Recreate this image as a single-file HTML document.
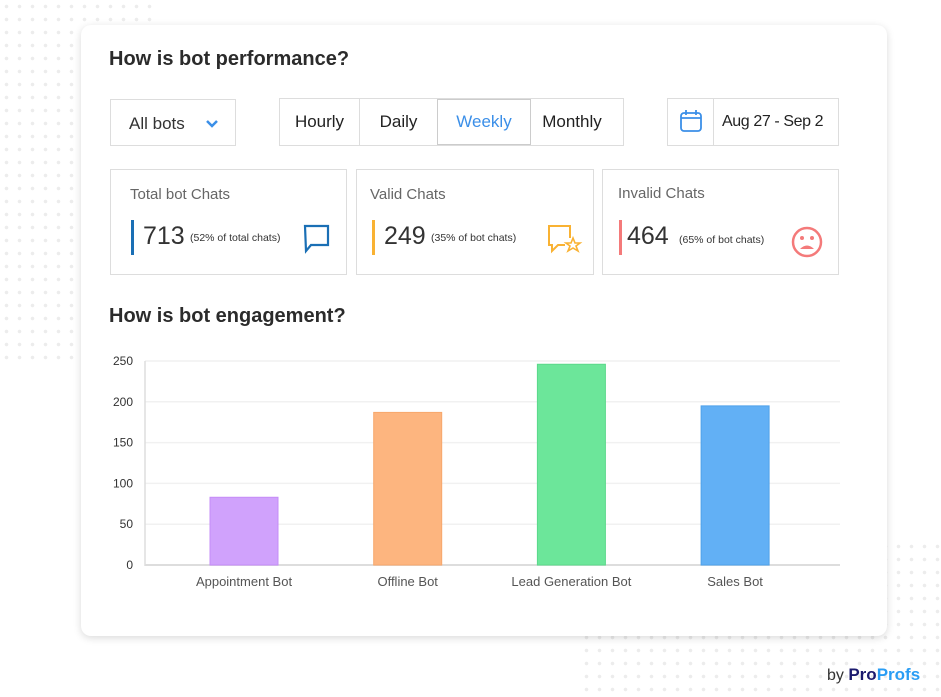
<!DOCTYPE html>
<html><head><meta charset="utf-8"><style>
*{box-sizing:border-box;margin:0;padding:0}
body{width:941px;height:697px;position:relative;background:#fff;font-family:"Liberation Sans",sans-serif;overflow:hidden;color:#333}
.dots{position:absolute;background-image:radial-gradient(circle,#ececec 1.6px,transparent 2px);background-size:13px 13px}
.card{position:absolute;left:81px;top:25px;width:806px;height:611px;background:#fff;border-radius:10px;box-shadow:0 2px 8px rgba(0,0,0,.15)}
.abs{position:absolute;white-space:nowrap}
h2{position:absolute;font-size:20px;font-weight:bold;color:#2b2b2b;white-space:nowrap}
.box{position:absolute;border:1px solid #ddd;background:#fff}
.seg{position:absolute;top:0;height:100%;font-size:17px;display:flex;align-items:center;justify-content:center;color:#222}
.stat .t{position:absolute;left:19px;top:16px;font-size:15px;color:#666}
.stat .bar{position:absolute;left:20px;top:50px;width:3px;height:35px}
.stat .n{position:absolute;top:52px;font-size:25px;color:#333}
.stat .p{position:absolute;top:62px;font-size:10.5px;color:#333;white-space:nowrap}
</style></head><body>
<div class="dots" style="left:0;top:0;width:156px;height:360px"></div>
<div class="dots" style="left:580px;top:540px;width:361px;height:157px"></div>
<div class="card">
<h2 style="left:28px;top:23px">How is bot performance?</h2>
<div class="box" style="left:29px;top:74px;width:126px;height:47px">
<span class="abs" style="left:18px;top:14px;font-size:17px">All bots</span>
<svg class="abs" style="left:95px;top:19px" width="12" height="9"><path d="M1 2 L6 7 L11 2" stroke="#3b8fe8" stroke-width="2.5" fill="none"/></svg>
</div>
<div class="box" style="left:198px;top:73px;width:345px;height:48px">
<div class="seg" style="left:0;width:80px;border-right:1px solid #ddd">Hourly</div>
<div class="seg" style="left:80px;width:77px">Daily</div>
<div class="seg" style="left:157px;width:94px;border:1px solid #ccc;color:#3b8fe8">Weekly</div>
<div class="seg" style="left:251px;width:82px">Monthly</div>
</div>
<div class="box" style="left:586px;top:73px;width:172px;height:48px">
<div class="abs" style="left:0;top:0;width:46px;height:46px;border-right:1px solid #ddd"></div>
<svg class="abs" style="left:11px;top:10px" width="24" height="24"><rect x="2" y="4" width="20" height="18" rx="3" fill="none" stroke="#3b8fe8" stroke-width="1.8"/><line x1="2" y1="9" x2="22" y2="9" stroke="#3b8fe8" stroke-width="1.8"/><line x1="7" y1="1" x2="7" y2="6" stroke="#3b8fe8" stroke-width="1.8"/><line x1="17" y1="1" x2="17" y2="6" stroke="#3b8fe8" stroke-width="1.8"/></svg>
<span class="abs" style="left:54px;top:14px;font-size:16px;letter-spacing:-0.4px;color:#222">Aug 27 - Sep 2</span>
</div>
<div class="box stat" style="left:29px;top:144px;width:237px;height:106px">
<div class="t">Total bot Chats</div><div class="bar" style="background:#1a6fb5"></div>
<div class="n" style="left:32px">713</div><div class="p" style="left:79px">(52% of total chats)</div>
<svg class="abs" style="left:192px;top:54px" width="28" height="30"><path d="M2 2 H25 V21 H8 L3 27 Z" fill="none" stroke="#1a6fb5" stroke-width="2.2"/></svg>
</div>
<div class="box stat" style="left:275px;top:144px;width:238px;height:106px">
<div class="t" style="left:13px">Valid Chats</div><div class="bar" style="left:15px;background:#f9b233"></div>
<div class="n" style="left:27px">249</div><div class="p" style="left:74px">(35% of bot chats)</div>
<svg class="abs" style="left:190px;top:54px" width="36" height="30"><path d="M23 14 V2 H2 V21 H5 V27 L11 21 H18" fill="none" stroke="#f9b233" stroke-width="2"/><path d="M26 14 L28 19 L33 19 L29 22 L31 27 L26 24 L21 27 L23 22 L19 19 L24 19 Z" fill="none" stroke="#f9b233" stroke-width="1.6"/></svg>
</div>
<div class="box stat" style="left:521px;top:144px;width:237px;height:106px">
<div class="t" style="left:15px;top:15px">Invalid Chats</div><div class="bar" style="left:16px;top:50px;background:#f47a7a"></div>
<div class="n" style="left:24px">464</div><div class="p" style="left:76px;top:64px">(65% of bot chats)</div>
<svg class="abs" style="left:187px;top:55px" width="34" height="34"><circle cx="17" cy="17" r="14" fill="none" stroke="#f47a7a" stroke-width="2.5"/><circle cx="12" cy="13" r="2" fill="#f47a7a"/><circle cx="22" cy="13" r="2" fill="#f47a7a"/><path d="M10 24 Q17 17 24 24 Z" fill="#f47a7a"/></svg>
</div>
<h2 style="left:28px;top:280px">How is bot engagement?</h2>
</div>
<svg class="abs" id="chart" style="left:0;top:0" width="941" height="697"></svg>
<div class="abs" style="left:827px;top:665px;font-size:16px"><span style="color:#333">by </span><b style="color:#1b1a6e;font-size:17px">Pro</b><b style="color:#2a9df4;font-size:17px">Profs</b></div>
<script>
const categories=["Appointment Bot","Offline Bot","Lead Generation Bot","Sales Bot"];
const values=[83,187,246,195];
const colors=["#d0a2fc","#fdb57f","#6ce69a","#62b0f5"];
const strokes=["#c58cf7","#f7a86c","#5bd98a","#4fa2ea"];
const yTicks=[0,50,100,150,200,250];
const svg=document.getElementById('chart');const NS='http://www.w3.org/2000/svg';
const y0=565,y1=361,vmax=250,x0=145,x1=840;
const y=v=>y0-(v/vmax)*(y0-y1);
const xc=i=>244+163.7*i;
function mk(t,a){const e=document.createElementNS(NS,t);for(const k in a)e.setAttribute(k,a[k]);svg.appendChild(e);return e;}
yTicks.forEach(t=>{
 const g=mk('line',{x1:x0,x2:x1,y1:y(t),y2:y(t),stroke:t===0?'#ddd':'#f1f1f1','stroke-width':t===0?2:1.5});
 
 
 const l=mk('text',{x:133,y:y(t)+4,'text-anchor':'end','font-size':12,fill:'#333','font-family':'Liberation Sans, sans-serif'});
 l.textContent=t;
 
 
});
const ax=mk('line',{x1:x0,x2:x0,y1:y1,y2:y0+1,stroke:'#ddd','stroke-width':1.5});


categories.forEach((c,i)=>{
 const r=mk('rect',{x:xc(i)-34,y:y(values[i]),width:68,height:y0-y(values[i]),fill:colors[i],stroke:strokes[i],'stroke-width':1});
 
 
 const t=mk('text',{x:xc(i),y:586,'text-anchor':'middle','font-size':13,fill:'#555','font-family':'Liberation Sans, sans-serif'});
 t.textContent=c;
 
 
});
</script>
</body></html>
